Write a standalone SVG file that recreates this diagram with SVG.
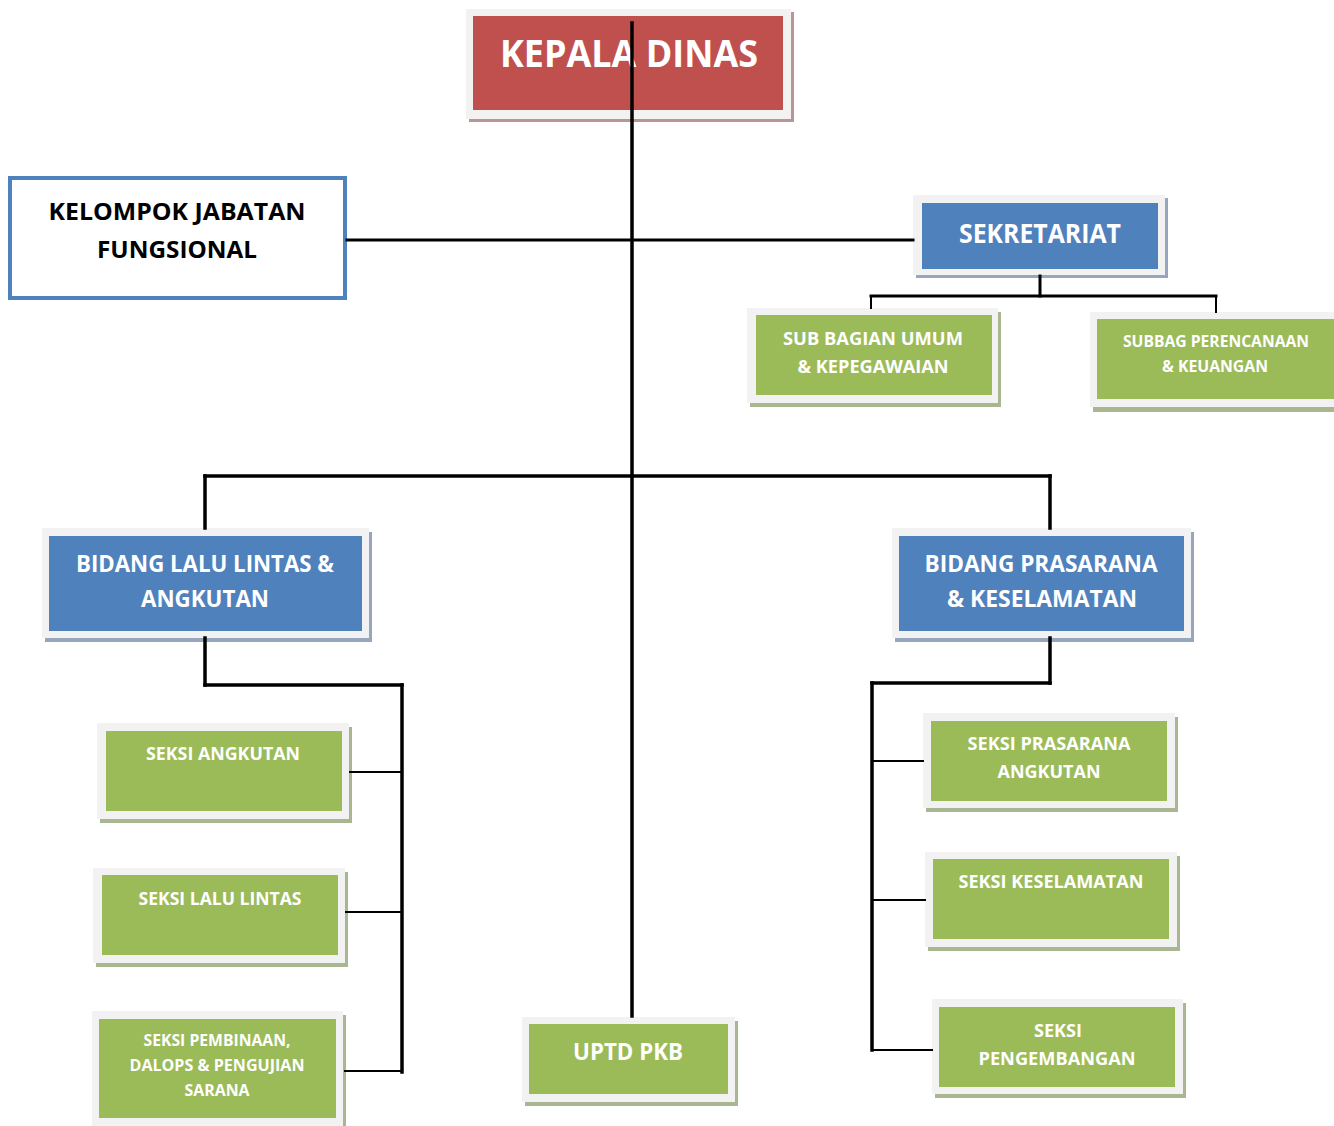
<svg xmlns="http://www.w3.org/2000/svg" width="1334" height="1126" viewBox="0 0 1334 1126">
<style>
.o{fill:#f2f2f2}
.sr{fill:#b99595}.sb{fill:#95a6bd}.sg{fill:#a8b792}
.r{fill:#c0504d}.b{fill:#4f81bd}.g{fill:#9bbb59}
text{font-family:"Open Sans","Noto Sans","DejaVu Sans",sans-serif;font-weight:bold;fill:#fff;text-anchor:middle}
.k{fill:#000}
.c line{stroke:#000;stroke-linecap:square}
</style>
<rect width="1334" height="1126" fill="#fff"/>
<g id="kepala-dinas">
<rect class="sr" x="469" y="12" width="325" height="110"/>
<rect class="o" x="466" y="9" width="325" height="110"/>
<rect class="r" x="473" y="16" width="310" height="94"/>
<text x="629" y="67" font-size="37" textLength="258" lengthAdjust="spacingAndGlyphs">KEPALA DINAS</text>
</g>
<g id="kelompok-jabatan-fungsional">
<rect x="10" y="178" width="335" height="120" fill="#fff" stroke="#4f81bd" stroke-width="4"/>
<text class="k" x="177" y="220" font-size="24" textLength="257" lengthAdjust="spacingAndGlyphs">KELOMPOK JABATAN</text>
<text class="k" x="177" y="258" font-size="24" textLength="160" lengthAdjust="spacingAndGlyphs">FUNGSIONAL</text>
</g>
<g id="sekretariat">
<rect class="sb" x="916" y="198" width="252" height="80"/>
<rect class="o" x="913" y="195" width="252" height="80"/>
<rect class="b" x="922" y="203" width="236" height="66"/>
<text x="1040" y="243" font-size="26" textLength="162" lengthAdjust="spacingAndGlyphs">SEKRETARIAT</text>
</g>
<g id="sub-bagian-umum">
<rect class="sg" x="750" y="312" width="251" height="95"/>
<rect class="o" x="747" y="308" width="251" height="95"/>
<rect class="g" x="756" y="315" width="236" height="80"/>
<text x="873" y="345" font-size="18" textLength="180" lengthAdjust="spacingAndGlyphs">SUB BAGIAN UMUM</text>
<text x="873" y="373" font-size="18" textLength="151" lengthAdjust="spacingAndGlyphs">&amp; KEPEGAWAIAN</text>
</g>
<g id="subbag-perencanaan">
<rect class="sg" x="1093" y="316" width="250" height="96"/>
<rect class="o" x="1090" y="312" width="250" height="95"/>
<rect class="g" x="1097" y="319" width="243" height="80"/>
<text x="1216" y="347" font-size="16" textLength="186" lengthAdjust="spacingAndGlyphs">SUBBAG PERENCANAAN</text>
<text x="1215" y="372" font-size="16" textLength="106" lengthAdjust="spacingAndGlyphs">&amp; KEUANGAN</text>
</g>
<g id="bidang-lalu-lintas">
<rect class="sb" x="45" y="532" width="327" height="110"/>
<rect class="o" x="42" y="528" width="327" height="110"/>
<rect class="b" x="49" y="536" width="313" height="95"/>
<text x="205" y="572" font-size="24" textLength="258" lengthAdjust="spacingAndGlyphs">BIDANG LALU LINTAS &amp;</text>
<text x="205" y="607" font-size="24" textLength="128" lengthAdjust="spacingAndGlyphs">ANGKUTAN</text>
</g>
<g id="bidang-prasarana">
<rect class="sb" x="895" y="532" width="299" height="110"/>
<rect class="o" x="892" y="528" width="299" height="110"/>
<rect class="b" x="899" y="536" width="285" height="95"/>
<text x="1041" y="572" font-size="24" textLength="233" lengthAdjust="spacingAndGlyphs">BIDANG PRASARANA</text>
<text x="1042" y="607" font-size="24" textLength="190" lengthAdjust="spacingAndGlyphs">&amp; KESELAMATAN</text>
</g>
<g id="seksi-angkutan">
<rect class="sg" x="100" y="727" width="252" height="96"/>
<rect class="o" x="97" y="723" width="252" height="96"/>
<rect class="g" x="106" y="731" width="236" height="80"/>
<text x="223" y="760" font-size="18" textLength="154" lengthAdjust="spacingAndGlyphs">SEKSI ANGKUTAN</text>
</g>
<g id="seksi-lalu-lintas">
<rect class="sg" x="96" y="872" width="252" height="95"/>
<rect class="o" x="93" y="868" width="252" height="95"/>
<rect class="g" x="102" y="875" width="236" height="80"/>
<text x="220" y="905" font-size="18" textLength="163" lengthAdjust="spacingAndGlyphs">SEKSI LALU LINTAS</text>
</g>
<g id="seksi-pembinaan">
<rect class="sg" x="95" y="1015" width="251" height="115"/>
<rect class="o" x="92" y="1011" width="251" height="115"/>
<rect class="g" x="99" y="1019" width="237" height="99"/>
<text x="217" y="1046" font-size="16" textLength="147" lengthAdjust="spacingAndGlyphs">SEKSI PEMBINAAN,</text>
<text x="217" y="1071" font-size="16" textLength="175" lengthAdjust="spacingAndGlyphs">DALOPS &amp; PENGUJIAN</text>
<text x="217" y="1096" font-size="16" textLength="65" lengthAdjust="spacingAndGlyphs">SARANA</text>
</g>
<g id="uptd-pkb">
<rect class="sg" x="525" y="1021" width="213" height="85"/>
<rect class="o" x="522" y="1017" width="213" height="85"/>
<rect class="g" x="529" y="1024" width="199" height="70"/>
<text x="628" y="1060" font-size="24" textLength="110" lengthAdjust="spacingAndGlyphs">UPTD PKB</text>
</g>
<g id="seksi-prasarana-angkutan">
<rect class="sg" x="926" y="717" width="252" height="95"/>
<rect class="o" x="923" y="713" width="252" height="95"/>
<rect class="g" x="931" y="721" width="236" height="80"/>
<text x="1049" y="750" font-size="18" textLength="163" lengthAdjust="spacingAndGlyphs">SEKSI PRASARANA</text>
<text x="1049" y="778" font-size="18" textLength="103" lengthAdjust="spacingAndGlyphs">ANGKUTAN</text>
</g>
<g id="seksi-keselamatan">
<rect class="sg" x="928" y="856" width="252" height="95"/>
<rect class="o" x="925" y="852" width="252" height="95"/>
<rect class="g" x="933" y="859" width="236" height="80"/>
<text x="1051" y="888" font-size="18" textLength="185" lengthAdjust="spacingAndGlyphs">SEKSI KESELAMATAN</text>
</g>
<g id="seksi-pengembangan">
<rect class="sg" x="935" y="1003" width="251" height="95"/>
<rect class="o" x="932" y="999" width="251" height="95"/>
<rect class="g" x="939" y="1007" width="236" height="80"/>
<text x="1058" y="1037" font-size="18" textLength="48" lengthAdjust="spacingAndGlyphs">SEKSI</text>
<text x="1057" y="1065" font-size="18" textLength="157" lengthAdjust="spacingAndGlyphs">PENGEMBANGAN</text>
</g>
<g class="c" id="connectors">
<line x1="632" y1="23" x2="632" y2="1016" stroke-width="3.5"/>
<line x1="347" y1="240" x2="913" y2="240" stroke-width="3"/>
<line x1="1040" y1="276" x2="1040" y2="296" stroke-width="3"/>
<line x1="871" y1="296" x2="1216" y2="296" stroke-width="3"/>
<line x1="871" y1="296" x2="871" y2="308" stroke-width="2"/>
<line x1="1216" y1="296" x2="1216" y2="312" stroke-width="2"/>
<line x1="205" y1="476" x2="1050" y2="476" stroke-width="3.5"/>
<line x1="205" y1="476" x2="205" y2="528" stroke-width="3.5"/>
<line x1="1050" y1="476" x2="1050" y2="528" stroke-width="3.5"/>
<line x1="205" y1="638" x2="205" y2="685" stroke-width="3.5"/>
<line x1="205" y1="685" x2="402" y2="685" stroke-width="3.5"/>
<line x1="402" y1="685" x2="402" y2="1072" stroke-width="3.5"/>
<line x1="350" y1="772" x2="402" y2="772" stroke-width="2"/>
<line x1="346" y1="912" x2="402" y2="912" stroke-width="2"/>
<line x1="345" y1="1071" x2="402" y2="1071" stroke-width="2"/>
<line x1="1050" y1="638" x2="1050" y2="683" stroke-width="3.5"/>
<line x1="872" y1="683" x2="1050" y2="683" stroke-width="3.5"/>
<line x1="872" y1="683" x2="872" y2="1050" stroke-width="3.5"/>
<line x1="872" y1="761" x2="923" y2="761" stroke-width="2"/>
<line x1="872" y1="900" x2="925" y2="900" stroke-width="2"/>
<line x1="872" y1="1050" x2="932" y2="1050" stroke-width="2"/>
</g>
</svg>
